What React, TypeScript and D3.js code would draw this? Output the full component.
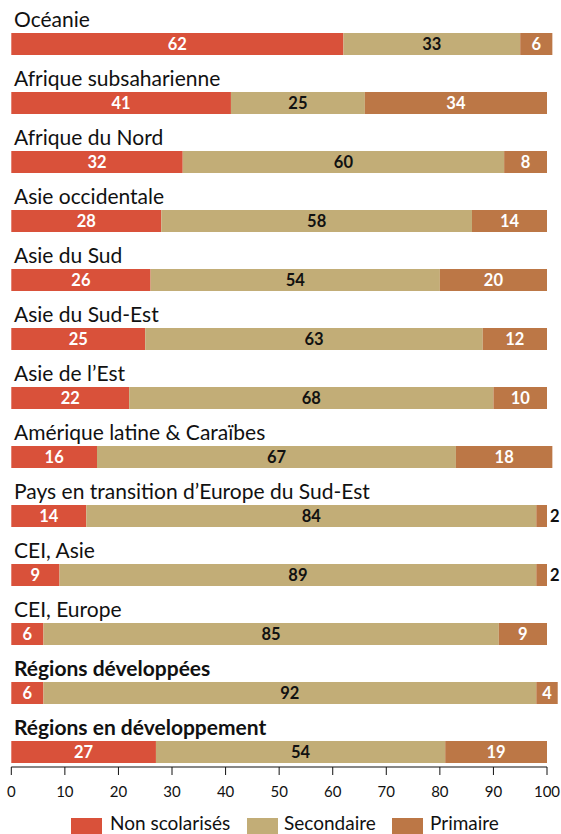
import React from "react";
import * as d3 from "d3";

const categories = [
  "Océanie",
  "Afrique subsaharienne",
  "Afrique du Nord",
  "Asie occidentale",
  "Asie du Sud",
  "Asie du Sud-Est",
  "Asie de l’Est",
  "Amérique latine & Caraïbes",
  "Pays en transition d’Europe du Sud-Est",
  "CEI, Asie",
  "CEI, Europe",
  "Régions développées",
  "Régions en développement",
];
const boldCategories = ["Régions développées", "Régions en développement"];
const nonScolarises = [62, 41, 32, 28, 26, 25, 22, 16, 14, 9, 6, 6, 27];
const secondaire = [33, 25, 60, 58, 54, 63, 68, 67, 84, 89, 85, 92, 54];
const primaire = [6, 34, 8, 14, 20, 12, 10, 18, 2, 2, 9, 4, 19];
const seriesNames = ["Non scolarisés", "Secondaire", "Primaire"];
const colors = ["#D9513A", "#C2AD77", "#BC7746"];
const textColors = ["#ffffff", "#111111", "#ffffff"];
const ticks = [0, 10, 20, 30, 40, 50, 60, 70, 80, 90, 100];

const W = 561;
const H = 834;
const FONT = "Lato, 'Open Sans', sans-serif";

export default function App() {
  const x = d3.scaleLinear().domain([0, 100]).range([11.3, 547]);
  const y = d3
    .scaleBand<string>()
    .domain(categories)
    .range([33 - 59 + 22, 33 - 59 + 22 + 59 * 13])
    .paddingInner(0);
  const barH = 22;
  const series = [nonScolarises, secondaire, primaire];
  const axisY = 767;

  return (
    <svg width={W} height={H} style={{ position: "absolute", left: 0, top: 0, fontFamily: FONT }}>
      {categories.map((c, i) => {
        const band = y(c)!;
        const barTop = band + y.bandwidth() - barH;
        let acc = 0;
        return (
          <g key={c}>
            <text
              x={14}
              y={barTop - 6}
              fontSize={21}
              fontWeight={boldCategories.includes(c) ? 700 : 400}
              fill="#111"
            >
              {c}
            </text>
            {series.map((s, k) => {
              const v = s[i];
              const x0 = x(acc);
              const x1 = x(acc + v);
              acc += v;
              const w = x1 - x0;
              const inside = w > 14;
              return (
                <g key={k}>
                  <rect x={x0} y={barTop} width={w} height={barH} fill={colors[k]} />
                  <text
                    x={inside ? (x0 + x1) / 2 : x1 + 3}
                    y={barTop + barH / 2 + 6}
                    textAnchor={inside ? "middle" : "start"}
                    fontSize={16.5}
                    fontWeight={700}
                    fill={inside ? textColors[k] : "#111"}
                  >
                    {v}
                  </text>
                </g>
              );
            })}
          </g>
        );
      })}
      <line x1={x(0)} x2={x(100)} y1={axisY} y2={axisY} stroke="#111" strokeWidth={1.2} />
      {ticks.map((t) => (
        <g key={t}>
          <line x1={x(t)} x2={x(t)} y1={axisY} y2={axisY + 8} stroke="#111" strokeWidth={1} />
          <text x={x(t)} y={axisY + 30} textAnchor="middle" fontSize={15} fill="#111">
            {t}
          </text>
        </g>
      ))}
      {[
        { sx: 71, tx: 110 },
        { sx: 247, tx: 284 },
        { sx: 392, tx: 430 },
      ].map((p, k) => (
        <g key={k}>
          <rect x={p.sx} y={818} width={31} height={16} fill={colors[k]} />
          <text x={p.tx} y={830} fontSize={19} fill="#111">
            {seriesNames[k]}
          </text>
        </g>
      ))}
    </svg>
  );
}
